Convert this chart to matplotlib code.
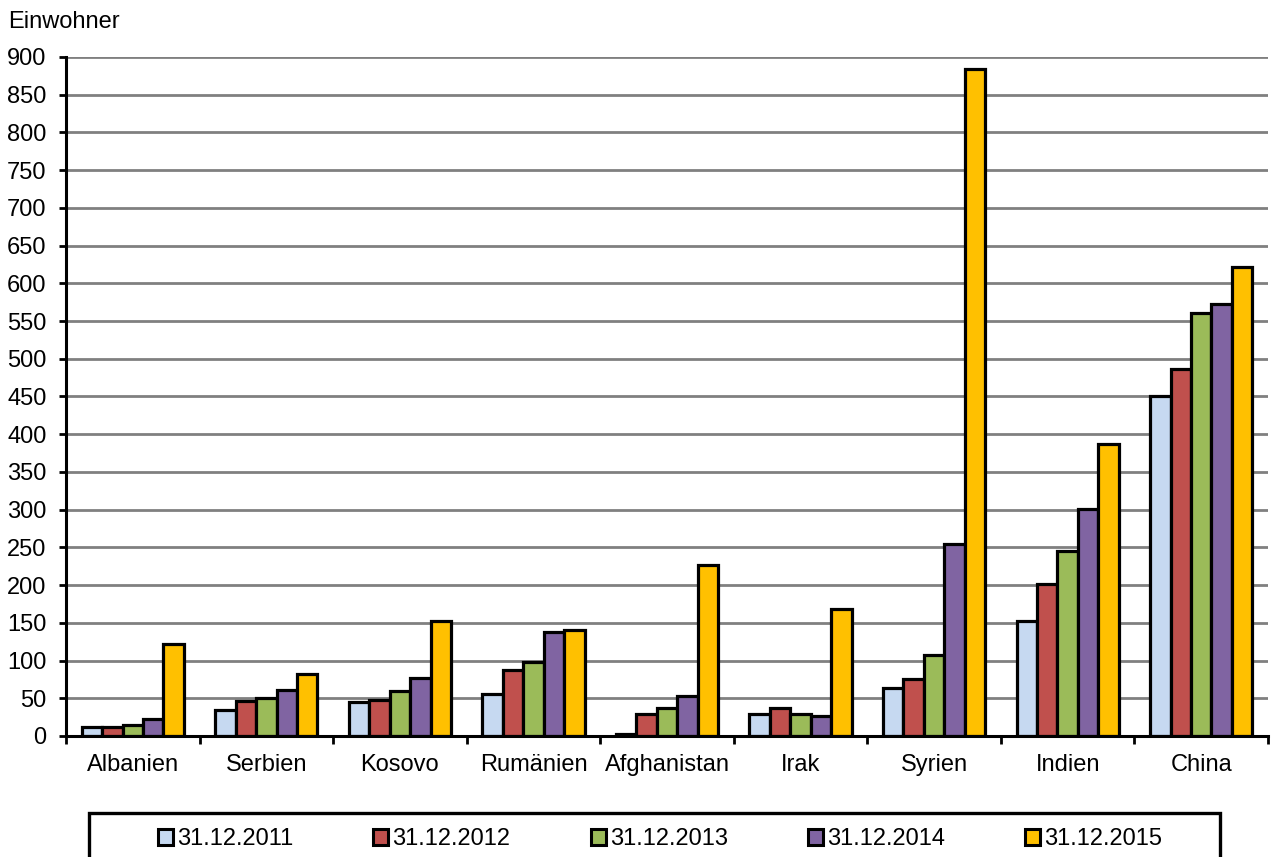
import matplotlib
matplotlib.use("Agg")
import matplotlib.pyplot as plt
import numpy as np
from matplotlib.patches import Rectangle

plt.rcParams["font.family"] = ["Liberation Sans", "DejaVu Sans"]

countries = ["Albanien", "Serbien", "Kosovo", "Rumänien", "Afghanistan",
             "Irak", "Syrien", "Indien", "China"]
years = ["31.12.2011", "31.12.2012", "31.12.2013", "31.12.2014", "31.12.2015"]

v2011 = [12, 34, 45, 55, 3, 29, 64, 152, 450]
v2012 = [12, 47, 48, 88, 29, 37, 75, 202, 487]
v2013 = [15, 50, 59, 98, 37, 29, 108, 245, 561]
v2014 = [23, 61, 77, 138, 53, 26, 255, 301, 572]
v2015 = [122, 82, 152, 141, 226, 168, 884, 387, 622]
series = [v2011, v2012, v2013, v2014, v2015]

colors = ["#C6D9F1", "#C0504D", "#9BBB59", "#8064A2", "#FFC000"]
FS = 17

fig = plt.figure(figsize=(12.74, 8.57), dpi=100)
ax = fig.add_axes([0.0518, 0.1412, 0.9435, 0.7923])

x = np.arange(len(countries))
w = 0.153
for i, (vals, c, lab) in enumerate(zip(series, colors, years)):
    ax.bar(x + (i - 2) * w, vals, width=w, color=c, edgecolor="black",
           linewidth=2.3, label=lab, zorder=3)

ax.set_xlim(-0.5, len(countries) - 0.5)
ax.set_ylim(0, 900)
ax.set_yticks(np.arange(0, 901, 50))
ax.yaxis.grid(True, color="#808080", linewidth=2.0, zorder=0)
ax.set_axisbelow(True)

ax.set_xticks(x)
ax.set_xticklabels(countries)
ax.set_xticks(np.arange(-0.5, len(countries), 1), minor=True)
ax.tick_params(axis="x", which="major", length=0, pad=13, labelsize=FS)
ax.tick_params(axis="x", which="minor", length=6, width=2, direction="out")
ax.tick_params(axis="y", length=5, width=2, direction="out", labelsize=FS, pad=9)

for s in ["top", "right"]:
    ax.spines[s].set_visible(False)
for s in ["left", "bottom"]:
    ax.spines[s].set_linewidth(2.2)
    ax.spines[s].set_zorder(4)

fig.text(8 / 1274, 1 - 22 / 857, "Einwohner", fontsize=FS, va="center", ha="left")

# legend box
fig.patches.append(Rectangle((89 / 1274, -0.02), (1220 - 89) / 1274, 0.02 + 44 / 857,
                             transform=fig.transFigure, fill=False,
                             edgecolor="black", linewidth=2.4))
leg = fig.legend(loc="center", bbox_to_anchor=(660 / 1274, 1 - 839 / 857), ncol=5,
                 frameon=False, fontsize=FS, handlelength=0.64, handleheight=0.64,
                 handletextpad=0.17, columnspacing=3.4, borderpad=0, borderaxespad=0)
for h in leg.legend_handles:
    h.set_linewidth(2.2)

fig.savefig("out.png", dpi=100)
